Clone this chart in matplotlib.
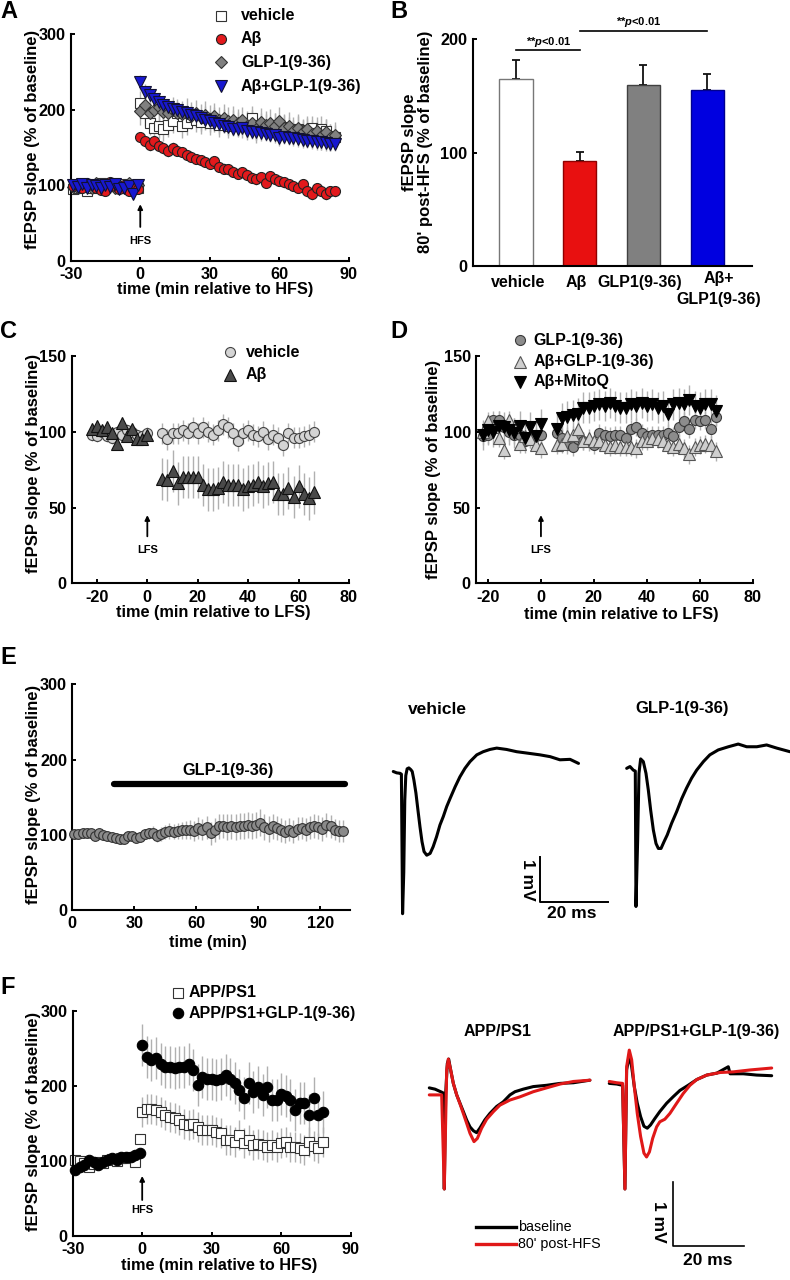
import matplotlib
matplotlib.use('Agg')
import matplotlib.pyplot as plt

plt.rcParams['font.family'] = ['Liberation Sans', 'DejaVu Sans']
plt.rcParams['axes.unicode_minus'] = False
plt.rcParams['mathtext.fontset'] = 'custom'
plt.rcParams['mathtext.it'] = 'Liberation Sans:italic:bold'
plt.rcParams['mathtext.rm'] = 'Liberation Sans:bold'

# ---------------- DATA ----------------
# Panel A (LTP, HFS)
A_names = ['vehicle', 'Aβ', 'GLP-1(9-36)', 'Aβ+GLP-1(9-36)']
A_t_base = [-29, -27, -25, -23, -21, -19, -17, -15, -13, -11, -9, -7, -5, -3, -1]
A_t_post = list(range(0, 86, 2))
A_veh_base = [95, 97, 100, 92, 96, 100, 103, 98, 101, 99, 97, 102, 98, 100, 97]
A_ab_base = [99, 101, 97, 103, 100, 96, 94, 92, 104, 99, 95, 101, 93, 97, 95]
A_glp_base = [98, 96, 101, 99, 97, 103, 100, 98, 102, 97, 101, 99, 103, 98, 100]
A_abglp_base = [100, 98, 102, 97, 101, 99, 96, 100, 98, 102, 95, 97, 99, 88, 100]
A_veh_post = [209, 195, 182, 176, 178, 175, 180, 185, 195, 178, 183, 190, 186, 184, 189,
              182, 187, 180, 185, 179, 183, 181, 178, 182, 189, 176, 180, 178, 175, 179,
              173, 177, 174, 171, 175, 170, 173, 176, 169, 175, 172, 165, 164]
A_ab_post = [164, 158, 153, 158, 152, 149, 145, 150, 146, 144, 140, 138, 135, 133, 131,
             128, 132, 124, 122, 121, 118, 115, 117, 114, 110, 108, 111, 103, 112, 108,
             106, 104, 102, 99, 97, 102, 92, 88, 96, 93, 88, 92, 92]
A_glp_post = [198, 206, 196, 200, 203, 197, 195, 199, 196, 194, 197, 192, 195, 190, 193,
              188, 191, 186, 189, 185, 187, 183, 186, 178, 182, 174, 184, 180, 183, 178,
              185, 176, 179, 172, 176, 170, 174, 168, 172, 165, 170, 163, 166]
A_abglp_post = [236, 224, 219, 214, 210, 206, 203, 201, 199, 197, 195, 193, 191, 189, 187,
                185, 183, 181, 179, 177, 175, 174, 176, 172, 171, 170, 169, 168, 167, 166,
                162, 164, 163, 162, 161, 160, 159, 158, 157, 157, 156, 155, 155]
A_err_base = 5
A_err_post = [16, 7, 18, 10]

# Panel B (bars)
B_cats = ['vehicle', 'Aβ', 'GLP1(9-36)', 'Aβ+\nGLP1(9-36)']
B_means = [165, 93, 160, 155]
B_sems = [17, 8, 17, 14]
B_sig_text = '**$p$<0.01'

# Panel C (LTD, LFS)
C_names = ['vehicle', 'Aβ']
C_t_base = list(range(-22, 1, 2))
C_t_post = list(range(6, 67, 2))
C_veh_base = [98, 97, 100, 97, 96, 100, 98, 101, 100, 98, 97, 99]
C_ab_base = [102, 104, 101, 103, 99, 92, 106, 97, 102, 95, 95, 98]
C_veh_post = [99, 95, 99, 99, 101, 99, 103, 99, 103, 100, 98, 101, 105, 103, 99, 94,
              99, 101, 98, 97, 100, 95, 98, 96, 91, 99, 96, 96, 97, 98, 100]
C_ab_post = [69, 68, 74, 66, 70, 70, 70, 70, 65, 62, 62, 63, 67, 65, 65, 65,
             62, 64, 65, 67, 64, 66, 67, 59, 59, 63, 57, 64, 59, 56, 60]
C_err = [4, 7, 4, 14]

# Panel D
D_names = ['GLP-1(9-36)', 'Aβ+GLP-1(9-36)', 'Aβ+MitoQ']
D_t_base = list(range(-22, 1, 2))
D_t_post = list(range(6, 67, 2))
D_glp_base = [97, 98, 108, 108, 103, 100, 98, 98, 94, 95, 97, 98]
D_abglp_base = [100, 107, 103, 96, 88, 108, 103, 92, 97, 95, 91, 89]
D_mito_base = [98, 101, 100, 104, 103, 101, 99, 104, 96, 103, 97, 105]
D_glp_post = [99, 96, 91, 90, 95, 94, 93, 91, 99, 98, 97, 98, 98, 96, 102, 103,
              99, 97, 98, 98, 98, 99, 97, 103, 107, 102, 108, 107, 108, 102, 110]
D_abglp_post = [91, 92, 97, 98, 102, 94, 96, 94, 94, 91, 90, 91, 90, 90, 90, 89,
                94, 94, 96, 95, 94, 91, 90, 92, 89, 85, 90, 91, 92, 91, 87]
D_mito_post = [102, 109, 110, 111, 112, 116, 116, 117, 118, 117, 119, 117, 116, 116, 118, 117,
               119, 117, 118, 116, 117, 112, 118, 119, 118, 121, 117, 116, 118, 118, 114]
D_err = [6, 6, 10]

# Panel E
E_t = list(range(1, 132, 2))
E_vals = [101, 101, 102, 102, 103, 98, 102, 100, 99, 97, 96, 95, 94, 98, 99, 96, 97,
          101, 102, 103, 99, 101, 104, 105, 104, 105, 106, 106, 107, 105, 109, 107, 110,
          102, 106, 111, 112, 110, 111, 110, 112, 112, 113, 112, 113, 116, 110, 108, 111,
          109, 106, 104, 107, 104, 108, 109, 107, 110, 112, 110, 108, 113, 111, 107, 105, 105]
E_err = [3, 3, 3, 3, 3, 4, 4, 4, 4, 4, 5, 5, 5, 5, 5, 6, 6, 7, 7, 8, 8, 9, 9, 10, 10,
         11, 11, 12, 12, 13, 14, 14, 15, 15, 16, 16, 16, 17, 17, 17, 17, 17, 17, 17, 17,
         18, 17, 17, 16, 16, 16, 15, 15, 15, 15, 15, 15, 15, 16, 16, 16, 16, 15, 14, 14, 14]
E_bar_label = 'GLP-1(9-36)'
E_bar_span = [20, 132]
E_bar_level = 167

# Panel F
F_names = ['APP/PS1', 'APP/PS1+GLP-1(9-36)']
F_t_base = list(range(-29, 0, 2))
F_t_post = list(range(0, 80, 2))
F_app_base = [101, 100, 97, 92, 96, 99, 98, 101, 103, 100, 104, 104, 106, 99, 130]
F_glp_base = [88, 92, 95, 101, 99, 95, 99, 101, 104, 102, 106, 105, 106, 108, 111]
F_app_post = [166, 170, 170, 168, 166, 161, 159, 157, 155, 150, 148, 150, 146, 141, 141,
              141, 139, 137, 128, 128, 126, 135, 124, 128, 121, 123, 121, 119, 121, 119,
              124, 126, 119, 119, 117, 115, 126, 120, 118, 125]
F_glp_post = [255, 239, 235, 237, 230, 226, 226, 224, 226, 225, 230, 221, 202, 212, 210,
              210, 208, 210, 215, 209, 204, 195, 184, 204, 192, 199, 188, 199, 181, 181,
              190, 187, 181, 168, 177, 177, 161, 184, 161, 166]
F_err = [5, 20, 5, 28]

# Example traces, panel E (ms, mV)
E_tr_names = ['vehicle', 'GLP-1(9-36)']
E_veh_ms = [0, 1.0, 2.0, 2.4, 2.75, 3.1, 3.4, 3.7, 4.1, 4.6, 5.2, 5.6, 6.1, 6.7, 7.3,
            7.9, 8.5, 9.1, 9.9, 10.9, 11.8, 12.8, 13.8, 14.8, 15.8, 16.8, 18.3, 19.7, 21.2, 22.7,
            24.7, 26.6, 28.6, 30.6, 33.5, 36.5, 39.5, 43.4, 46.4, 49.3, 52.3, 54.8]
E_veh_mv = [0.04, 0.01, 0.0, -0.02, -3.12, -2.2, -0.6, -0.05, 0.10, 0.12, 0.08, 0.04, -0.15, -0.44, -0.82,
            -1.19, -1.52, -1.74, -1.82, -1.78, -1.63, -1.41, -1.15, -0.96, -0.74, -0.56, -0.30, -0.08, 0.11, 0.26,
            0.41, 0.48, 0.53, 0.56, 0.53, 0.48, 0.45, 0.41, 0.37, 0.30, 0.31, 0.22]
E_glp_ms = [0, 0.98, 1.97, 2.55, 2.75, 3.25, 3.64, 4.13, 4.92, 5.71, 6.40, 7.1, 7.89, 8.68, 9.37,
            10.16, 11.05, 12.0, 13.3, 14.8, 16.3, 17.7, 19.2, 20.7, 22.7, 24.6, 27.1, 30.1, 33.0, 35.5,
            38.5, 41.4, 44.4, 48.3]
E_glp_mv = [0.11, 0.15, 0.07, 0.05, -2.96, -1.48, 0.0, 0.32, 0.26, 0.0, -0.37, -0.82, -1.26, -1.56, -1.67,
            -1.67, -1.52, -1.37, -1.11, -0.85, -0.56, -0.33, -0.11, 0.07, 0.26, 0.41, 0.52, 0.59, 0.65, 0.59,
            0.59, 0.63, 0.56, 0.48]

# Example traces, panel F (ms, mV)
F_tr_legend = ['baseline', "80' post-HFS"]
F_app_bl_ms = [0, 1.59, 3.17, 3.9, 4.18, 4.57, 5.02, 5.4, 5.96, 6.7, 7.64, 8.56, 9.49, 10.4, 11.35,
               12.3, 13.2, 14.1, 15.5, 16.9, 18.8, 20.6, 22.5, 23.9, 26.2, 29.0, 32.7, 36.5, 40.2, 44.8]
F_app_bl_mv = [0.06, 0.04, 0.0, -0.02, -1.52, -0.03, 0.44, 0.51, 0.34, 0.13, -0.05, -0.18, -0.31, -0.44, -0.55,
               -0.61, -0.64, -0.57, -0.44, -0.34, -0.23, -0.16, -0.05, 0.0, 0.04, 0.08, 0.10, 0.13, 0.14, 0.18]
F_app_red_ms = [0, 1.7, 3.45, 4.18, 4.85, 5.3, 5.96, 6.7, 7.64, 8.56, 9.49, 10.4, 11.35, 12.47, 13.4,
                14.6, 16.0, 17.9, 19.7, 22.5, 25.3, 29.0, 32.7, 36.5, 40.2, 44.8]
F_app_red_mv = [-0.05, -0.05, -0.05, -1.52, 0.34, 0.51, 0.34, 0.13, -0.05, -0.19, -0.34, -0.49, -0.65, -0.78, -0.73,
                -0.57, -0.43, -0.31, -0.21, -0.13, -0.08, 0.0, 0.06, 0.12, 0.16, 0.18]
F_glp_bl_ms = [0, 2.05, 3.72, 4.37, 4.84, 5.58, 6.24, 6.98, 7.81, 8.74, 9.67, 10.6, 11.5, 12.7, 14.1,
               16.0, 17.8, 19.7, 22.0, 24.4, 27.2, 30.0, 33.2, 33.7, 37.4, 41.1, 45.3]
F_glp_bl_mv = [0.13, 0.12, 0.10, -1.52, 0.34, 0.57, 0.39, 0.08, -0.18, -0.39, -0.54, -0.57, -0.52, -0.42, -0.31,
               -0.18, -0.08, 0.02, 0.10, 0.19, 0.26, 0.29, 0.39, 0.28, 0.28, 0.26, 0.25]
F_glp_red_ms = [0, 2.05, 3.72, 4.37, 4.84, 5.58, 6.24, 6.98, 7.81, 8.74, 9.67, 10.4, 11.2, 12.1, 13.2,
                14.1, 15.5, 16.9, 18.8, 20.6, 22.5, 24.4, 27.2, 30.9, 34.6, 39.3, 45.3]
F_glp_red_mv = [0.16, 0.14, 0.13, -1.52, 0.39, 0.65, 0.50, 0.08, -0.34, -0.70, -0.96, -1.02, -0.94, -0.73, -0.55,
                -0.47, -0.43, -0.34, -0.18, -0.03, 0.10, 0.19, 0.26, 0.30, 0.31, 0.34, 0.37]

# ---------------- FIGURE ----------------
W, H = 790, 1280
fig = plt.figure(figsize=(W / 100, H / 100), dpi=100)

RED = '#e3191c'
BLUE = '#1818d0'
ERRC = '#b0b0b0'
TRACE_RED = '#e01818'


def px_axes(l, t, r, b, z=1):
    return fig.add_axes([l / W, 1 - b / H, (r - l) / W, (b - t) / H], zorder=z)


ov = fig.add_axes([0, 0, 1, 1], zorder=20)
ov.set_xlim(0, W)
ov.set_ylim(H, 0)
ov.axis('off')


def style(ax, xlim, ylim, xticks, yticks):
    ax.set_xlim(xlim)
    ax.set_ylim(ylim)
    ax.set_xticks(xticks)
    ax.set_yticks(yticks)
    for s in ['top', 'right']:
        ax.spines[s].set_visible(False)
    for s in ['left', 'bottom']:
        ax.spines[s].set_linewidth(1.5)
    ax.tick_params(direction='in', length=3.2, width=1.4, labelsize=11.7)
    ax.tick_params(axis='x', pad=4.6)
    ax.tick_params(axis='y', pad=3.8)
    for lab in ax.get_xticklabels() + ax.get_yticklabels():
        lab.set_fontweight('bold')
    ax.patch.set_alpha(0)


def series(ax, t, v, e, marker, fc, ms, ec='k', z=3):
    ax.errorbar(t, v, yerr=e, fmt='none', ecolor=ERRC, elinewidth=1.0, capsize=0, zorder=1)
    ax.plot(t, v, ls='none', marker=marker, mfc=fc, mec=ec, ms=ms, mew=0.8, zorder=z, clip_on=False)


def txt(x, y, s, size=11.5, weight='bold', **kw):
    ov.text(x, y, s, fontsize=size, fontweight=weight, **kw)


def legend(items, mx, tx, ys):
    for (marker, fc, ms, ec, label), y in zip(items, ys):
        ov.plot([mx], [y], ls='none', marker=marker, mfc=fc, mec=ec, ms=ms, mew=0.8)
        txt(tx, y, label, ha='left', va='center')


def stim_arrow(ax, t, y0, y1, ylab, label):
    ax.annotate('', xy=(t, y1), xytext=(t, y0),
                arrowprops=dict(arrowstyle='-|>', color='k', lw=1.3, mutation_scale=7,
                                shrinkA=0, shrinkB=0))
    ax.text(t, ylab, label, ha='center', va='center', fontsize=8, fontweight='bold')


def trace(ax, ms, mv, color, offset=0.0):
    ax.plot([offset + m for m in ms], mv, color=color, lw=2.2,
            solid_joinstyle='round', solid_capstyle='round')


# Panel letters
for letter, (x, y) in zip('ABCDEF', [(0, 12), (390, 12), (0, 332), (390, 332), (0, 658), (0, 988)]):
    txt(x, y, letter, size=17, ha='left', va='center')

YLAB = 'fEPSP slope (% of baseline)'

# ---- Panel A ----
axA = px_axes(70.7, 34, 349, 261)
style(axA, (-30, 90), (0, 300), [-30, 0, 30, 60, 90], [0, 100, 200, 300])
series(axA, A_t_base, A_veh_base, A_err_base, 's', 'white', 6.8, '#333333', 2)
series(axA, A_t_post, A_veh_post, A_err_post[0], 's', 'white', 6.8, '#333333', 2)
series(axA, A_t_base, A_glp_base, A_err_base, 'D', '#808080', 6.3, '#333333', 3)
series(axA, A_t_post, A_glp_post, A_err_post[2], 'D', '#808080', 6.3, '#333333', 3)
series(axA, A_t_base, A_ab_base, A_err_base, 'o', RED, 7.2, '#222222', 4)
series(axA, A_t_post, A_ab_post, A_err_post[1], 'o', RED, 7.2, '#222222', 4)
series(axA, A_t_base, A_abglp_base, A_err_base, 'v', BLUE, 8, '#111133', 5)
series(axA, A_t_post, A_abglp_post, A_err_post[3], 'v', BLUE, 8, '#111133', 5)
stim_arrow(axA, 0, 45, 75, 26, 'HFS')
txt(33, 139, YLAB, size=12, rotation=90, ha='center', va='center')
txt(215, 289.5, 'time (min relative to HFS)', size=11.7, ha='center', va='center')
legend([('s', 'white', 6.5, '#333333', A_names[0]), ('o', RED, 7.2, '#222222', A_names[1]),
        ('D', '#808080', 6.3, '#333333', A_names[2]), ('v', BLUE, 8, '#111133', A_names[3])],
       221, 241, [16, 39, 62, 86])

# ---- Panel B ----
axB = px_axes(472.7, 39.3, 751.7, 266)
xb = list(range(len(B_cats)))
B_colors = ['white', '#e81010', '#808080', '#0000e0']
B_edges = ['#777777', '#900000', '#404040', '#000090']
axB.bar(xb, B_means, width=0.52, color=B_colors, edgecolor=B_edges, linewidth=1.0, zorder=2)
axB.errorbar(xb, B_means, yerr=[[0] * len(B_sems), B_sems], fmt='none', ecolor='#111111',
             elinewidth=1.3, capsize=3.2, capthick=1.3, zorder=1)
style(axB, (-0.68, 3.7), (0, 200), [], [0, 100, 200])
axB.tick_params(axis='x', length=0)
B_label_shift = [0.03, -0.05, -0.06, 0.18]
for i, lab in enumerate(B_cats):
    if '\n' in lab:
        axB.annotate(lab, xy=(i + B_label_shift[i], 0), xycoords='data', xytext=(0, -16.5),
                     textcoords='offset points', ha='center', va='center', fontsize=11.5,
                     fontweight='bold', linespacing=1.55, multialignment='center',
                     annotation_clip=False)
    else:
        axB.annotate(lab, xy=(i + B_label_shift[i], 0), xycoords='data', xytext=(0, -12),
                     textcoords='offset points', ha='center', va='center', fontsize=11.5,
                     fontweight='bold', annotation_clip=False)
axB.plot([0, 1], [191, 191], color='k', lw=1.2, clip_on=False)
axB.plot([1, 3], [207.5, 207.5], color='k', lw=1.2, clip_on=False)
axB.text(0.52, 197.8, B_sig_text, ha='center', va='center', fontsize=8, fontweight='bold')
axB.text(1.92, 215.5, B_sig_text, ha='center', va='center', fontsize=8, fontweight='bold')
txt(417.5, 142, "fEPSP slope\n80' post-HFS (% of baseline)", size=12, rotation=90,
    ha='center', va='center', multialignment='center', linespacing=1.15)

# ---- Panel C ----
axC = px_axes(71.7, 356, 349, 583.3)
style(axC, (-30, 80), (0, 150), [-20, 0, 20, 40, 60, 80], [0, 50, 100, 150])
series(axC, C_t_base, C_veh_base, C_err[0], 'o', '#d4d4d4', 7.2, '#444444', 2)
series(axC, C_t_post, C_veh_post, C_err[1], 'o', '#d4d4d4', 7.2, '#444444', 2)
series(axC, C_t_base, C_ab_base, C_err[2], '^', '#4a4a4a', 8, '#111111', 3)
series(axC, C_t_post, C_ab_post, C_err[3], '^', '#4a4a4a', 8, '#111111', 3)
stim_arrow(axC, 0, 31, 45, 22, 'LFS')
txt(33.3, 463, YLAB, size=12, rotation=90, ha='center', va='center')
txt(213.7, 612, 'time (min relative to LFS)', size=11.7, ha='center', va='center')
legend([('o', '#d4d4d4', 7.2, '#444444', C_names[0]), ('^', '#4a4a4a', 8, '#111111', C_names[1])],
       230, 246, [352.3, 375])

# ---- Panel D ----
axD = px_axes(476, 356, 753, 583.3)
style(axD, (-24.5, 80), (0, 150), [-20, 0, 20, 40, 60, 80], [0, 50, 100, 150])
series(axD, D_t_base, D_glp_base, D_err[0], 'o', '#8c8c8c', 7.2, '#3a3a3a', 2)
series(axD, D_t_post, D_glp_post, D_err[0], 'o', '#8c8c8c', 7.2, '#3a3a3a', 2)
series(axD, D_t_base, D_abglp_base, D_err[1], '^', '#cfcfcf', 8, '#555555', 3)
series(axD, D_t_post, D_abglp_post, D_err[1], '^', '#cfcfcf', 8, '#555555', 3)
series(axD, D_t_base, D_mito_base, D_err[2], 'v', '#000000', 8, '#000000', 4)
series(axD, D_t_post, D_mito_post, D_err[2], 'v', '#000000', 8, '#000000', 4)
stim_arrow(axD, 0, 31, 45, 22, 'LFS')
txt(433.3, 469, YLAB, size=12, rotation=90, ha='center', va='center')
txt(621.7, 615, 'time (min relative to LFS)', size=11.7, ha='center', va='center')
legend([('o', '#8c8c8c', 7.2, '#3a3a3a', D_names[0]), ('^', '#cfcfcf', 8, '#555555', D_names[1]),
        ('v', '#000000', 8, '#000000', D_names[2])], 520, 533.5, [340, 361.7, 381.7])

# ---- Panel E ----
axE = px_axes(72.3, 684.3, 350, 910)
style(axE, (0, 134.4), (0, 300), [0, 30, 60, 90, 120], [0, 100, 200, 300])
series(axE, E_t, E_vals, E_err, 'o', '#8a8a8a', 7, '#333333', 3)
axE.plot(E_bar_span, [E_bar_level, E_bar_level], color='k', lw=4.5, solid_capstyle='round', zorder=4)
axE.text(75.5, 186, E_bar_label, ha='center', va='center', fontsize=11.7, fontweight='bold')
txt(33.3, 794, YLAB, size=12, rotation=90, ha='center', va='center')
txt(208, 942, 'time (min)', size=11.7, ha='center', va='center')

# E traces
axEt = px_axes(380, 740, 790, 930)
axEt.set_xlim(-3.93, 117.37)
axEt.set_ylim(-3.482, 0.740)
axEt.axis('off')
trace(axEt, E_veh_ms, E_veh_mv, 'k')
trace(axEt, E_glp_ms, E_glp_mv, 'k', offset=69.05)
sx, sy = 43.4, -2.86
axEt.plot([sx, sx, sx + 20], [sy + 1, sy, sy], color='k', lw=1.4)
axEt.text(39.6, -2.36, '1 mV', rotation=270, ha='center', va='center', fontsize=12.5, fontweight='bold')
axEt.text(52.9, -3.12, '20 ms', ha='center', va='center', fontsize=12.5, fontweight='bold')
txt(437.5, 709, E_tr_names[0], size=12.5, ha='center', va='center')
txt(682, 709, E_tr_names[1], size=12, ha='center', va='center')

# ---- Panel F ----
axF = px_axes(72.7, 1011, 350.7, 1236)
style(axF, (-30, 90), (0, 300), [-30, 0, 30, 60, 90], [0, 100, 200, 300])
series(axF, F_t_base, F_app_base, F_err[0], 's', 'white', 7, '#333333', 2)
series(axF, F_t_post, F_app_post, F_err[1], 's', 'white', 7, '#333333', 2)
series(axF, F_t_base, F_glp_base, F_err[2], 'o', 'black', 7.5, 'black', 3)
series(axF, F_t_post, F_glp_post, F_err[3], 'o', 'black', 7.5, 'black', 3)
stim_arrow(axF, 0, 48, 80, 35, 'HFS')
txt(33.3, 1121.7, YLAB, size=12, rotation=90, ha='center', va='center')
txt(219, 1265.5, 'time (min relative to HFS)', size=11.7, ha='center', va='center')
legend([('s', 'white', 7, '#333333', F_names[0]), ('o', 'black', 7.5, 'black', F_names[1])],
       178.3, 189, [992.7, 1013.3])

# F traces
axFt = px_axes(420, 1000, 790, 1275)
axFt.set_xlim(-2.594, 100.61)
axFt.set_ylim(-2.864, 1.433)
axFt.axis('off')
trace(axFt, F_app_bl_ms, F_app_bl_mv, 'k')
trace(axFt, F_app_red_ms, F_app_red_mv, TRACE_RED)
trace(axFt, F_glp_bl_ms, F_glp_bl_mv, 'k', offset=50.2)
trace(axFt, F_glp_red_ms, F_glp_red_mv, TRACE_RED, offset=50.2)
fx, fy = 67.9, -2.411
axFt.plot([fx, fx, fx + 20], [fy + 1, fy, fy], color='k', lw=1.2)
axFt.text(63.9, -2.03, '1 mV', rotation=270, ha='center', va='center', fontsize=12.5, fontweight='bold')
axFt.text(77.7, -2.63, '20 ms', ha='center', va='center', fontsize=12.5, fontweight='bold')
axFt.plot([13.1, 24.3], [-2.11, -2.11], color='k', lw=2.4)
axFt.plot([13.1, 24.3], [-2.38, -2.38], color=TRACE_RED, lw=2.4)
axFt.text(24.7, -2.11, F_tr_legend[0], ha='left', va='center', fontsize=10.3)
axFt.text(24.7, -2.38, F_tr_legend[1], ha='left', va='center', fontsize=10.3)
txt(498, 1031.7, F_names[0], size=11.5, ha='center', va='center')
txt(696.7, 1031.7, F_names[1], size=11.5, ha='center', va='center')

fig.savefig('out.png', dpi=100)
